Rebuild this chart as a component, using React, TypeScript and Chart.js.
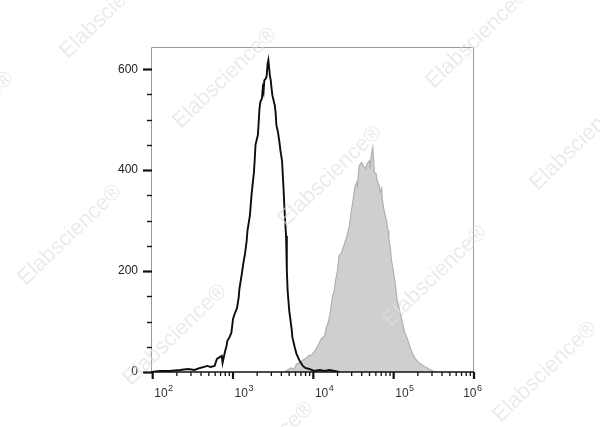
import React, { useEffect, useRef } from 'react';
import { Chart, registerables } from 'chart.js';

Chart.register(...registerables);

// Fluorescence channel, as log10 exponent, and event counts (black open histogram)
const blackExp = [
  1.99, 2.09, 2.21, 2.34, 2.44, 2.52, 2.59, 2.64, 2.68, 2.72, 2.77, 2.80, 2.84, 2.86, 2.87,
  2.90, 2.92, 2.93, 2.96, 2.98, 3.00, 3.02, 3.05, 3.07, 3.08, 3.11, 3.13, 3.15, 3.17, 3.18,
  3.21, 3.23, 3.26, 3.27, 3.28, 3.31, 3.33, 3.34, 3.36, 3.37, 3.38, 3.39, 3.41, 3.42, 3.43,
  3.44, 3.46, 3.47, 3.48, 3.49, 3.52, 3.53, 3.54, 3.56, 3.58, 3.59, 3.61, 3.63, 3.64, 3.66,
  3.67, 3.68, 3.70, 3.73, 3.74, 3.77, 3.79, 3.83, 3.87, 3.90, 3.95, 4.01, 4.08, 4.14, 4.20,
  4.26, 4.32,
];
const blackCount = [
  0, 2, 2, 4, 6, 4, 8, 10, 12, 10, 12, 26, 30, 32, 18,
  40, 52, 62, 70, 78, 105, 115, 127, 147, 165, 195, 217, 235, 260, 280,
  310, 350, 395, 420, 450, 470, 523, 535, 542, 562, 555, 578, 582, 588, 610,
  618, 586, 578, 562, 548, 528, 515, 489, 475, 453, 439, 419, 360, 324, 270,
  201, 161, 121, 85, 68, 48, 36, 22, 12, 8, 6, 2, 4, 2, 4,
  2, 0,
];

// Filled grey histogram (stained sample)
const grayExp = [
  3.64, 3.68, 3.72, 3.76, 3.79, 3.83, 3.87, 3.90, 3.94, 3.98, 4.01, 4.05, 4.08, 4.10, 4.14,
  4.16, 4.19, 4.21, 4.24, 4.26, 4.27, 4.30, 4.32, 4.35, 4.37, 4.40, 4.42, 4.45, 4.47, 4.50,
  4.51, 4.52, 4.54, 4.55, 4.56, 4.57, 4.60, 4.62, 4.65, 4.67, 4.70, 4.71, 4.72, 4.74, 4.75,
  4.76, 4.78, 4.80, 4.82, 4.83, 4.85, 4.86, 4.88, 4.91, 4.93, 4.94, 4.96, 4.97, 4.99, 5.02,
  5.04, 5.07, 5.11, 5.14, 5.17, 5.21, 5.23, 5.27, 5.32, 5.37, 5.40, 5.44, 5.49, 5.54,
];
const grayCount = [
  0, 4, 8, 6, 16, 18, 24, 26, 32, 34, 40, 50, 60, 66, 72,
  87, 101, 117, 151, 161, 175, 201, 230, 236, 246, 260, 270, 290, 316, 346,
  360, 368, 376, 368, 389, 409, 415, 409, 403, 413, 419, 403, 429, 445, 423,
  395, 393, 376, 370, 356, 364, 340, 320, 300, 280, 264, 244, 224, 205, 175,
  145, 125, 97, 77, 66, 46, 38, 26, 18, 12, 10, 6, 2, 0,
];

const xDecadeExps = [2, 3, 4, 5, 6];
const xMinorMultipliers = [2, 3, 4, 5, 6, 7, 8, 9];
const yLabelValues = [0, 200, 400, 600];
const yMinorStep = 50;
const watermarkText = 'Elabscience\u00AE';

const X_MIN = Math.pow(10, 1.979);
const X_MAX = 1e6;
const Y_MAX = 644;

const watermarkSpots: [number, number][] = [
  [112, 8], [225, 78], [330, 176], [435, 276], [478, 38], [582, 140],
  [-38, 122], [70, 235], [175, 335], [545, 372], [262, 452],
];

const decorPlugin = {
  id: 'decor',
  afterDraw(chart: any) {
    const { ctx, chartArea: a, scales } = chart;
    const xs = scales.x;
    const ys = scales.y;
    ctx.save();
    // frame
    ctx.strokeStyle = '#9a9a9a';
    ctx.lineWidth = 1;
    ctx.beginPath();
    ctx.moveTo(a.left + 0.5, a.bottom);
    ctx.lineTo(a.left + 0.5, a.top + 0.5);
    ctx.lineTo(a.right - 0.5, a.top + 0.5);
    ctx.lineTo(a.right - 0.5, a.bottom);
    ctx.stroke();
    ctx.strokeStyle = '#111';
    ctx.lineWidth = 1.6;
    ctx.beginPath();
    ctx.moveTo(a.left, a.bottom);
    ctx.lineTo(a.right, a.bottom);
    ctx.stroke();

    // y ticks
    ctx.strokeStyle = '#111';
    for (let v = 0; v <= Y_MAX; v += yMinorStep) {
      const y = Math.round(ys.getPixelForValue(v)) + 0.5;
      const major = yLabelValues.includes(v);
      ctx.lineWidth = major ? 2.2 : 1.4;
      const len = major ? 8 : 4;
      ctx.beginPath();
      ctx.moveTo(a.left - len, y);
      ctx.lineTo(a.left + 1, y);
      ctx.stroke();
    }

    // x ticks
    xDecadeExps.forEach((e) => {
      const base = Math.pow(10, e);
      const x = xs.getPixelForValue(base);
      ctx.lineWidth = 2.2;
      ctx.beginPath();
      ctx.moveTo(x, a.bottom);
      ctx.lineTo(x, a.bottom + 7);
      ctx.stroke();
      if (e < 6) {
        xMinorMultipliers.forEach((m) => {
          const xm = xs.getPixelForValue(base * m);
          ctx.lineWidth = 1.3;
          ctx.beginPath();
          ctx.moveTo(xm, a.bottom);
          ctx.lineTo(xm, a.bottom + 4);
          ctx.stroke();
        });
      }
    });

    // x labels 10^n
    ctx.fillStyle = '#333';
    ctx.textBaseline = 'alphabetic';
    ctx.textAlign = 'left';
    const baseFont = '12px "Liberation Sans", Arial, sans-serif';
    const expFont = '9px "Liberation Sans", Arial, sans-serif';
    xDecadeExps.forEach((e) => {
      const x = xs.getPixelForValue(Math.pow(10, e));
      ctx.font = baseFont;
      const wBase = ctx.measureText('10').width;
      ctx.font = expFont;
      const wExp = ctx.measureText(String(e)).width;
      const w = wBase + wExp + 0.5;
      let cx = x + 11;
      if (cx + w / 2 > a.right + 8) cx = a.right + 8 - w / 2;
      const left = cx - w / 2;
      ctx.font = baseFont;
      ctx.fillText('10', left, a.bottom + 25);
      ctx.font = expFont;
      ctx.fillText(String(e), left + wBase + 0.5, a.bottom + 19);
    });

    // watermarks
    ctx.fillStyle = 'rgba(222,222,222,0.6)';
    ctx.font = '22px "Liberation Sans", Arial, sans-serif';
    ctx.textAlign = 'center';
    ctx.textBaseline = 'middle';
    watermarkSpots.forEach(([wx, wy]) => {
      ctx.save();
      ctx.translate(wx, wy);
      ctx.rotate(-44 * Math.PI / 180);
      ctx.fillText(watermarkText, 0, 0);
      ctx.restore();
    });
    ctx.restore();
  },
};

export default function App() {
  const ref = useRef<HTMLCanvasElement | null>(null);
  useEffect(() => {
    if (!ref.current) return;
    const blackData = blackExp.map((e, i) => ({ x: Math.pow(10, e), y: blackCount[i] }));
    const grayData = grayExp.map((e, i) => ({ x: Math.pow(10, e), y: grayCount[i] }));
    const chart = new Chart(ref.current, {
      type: 'line',
      data: {
        datasets: [
          {
            label: 'Control',
            data: blackData,
            borderColor: '#0d0d0d',
            borderWidth: 1.9,
            pointRadius: 0,
            fill: false,
            tension: 0,
          },
          {
            label: 'Stained',
            data: grayData,
            borderColor: '#b0b0b0',
            backgroundColor: '#cfcfcf',
            borderWidth: 1.2,
            pointRadius: 0,
            fill: 'origin',
            tension: 0,
          },
        ],
      },
      options: {
        animation: false,
        responsive: true,
        maintainAspectRatio: false,
        layout: { padding: { left: 0, right: 126, top: 47, bottom: 0 } },
        plugins: { legend: { display: false }, tooltip: { enabled: false } },
        scales: {
          x: {
            type: 'logarithmic',
            min: X_MIN,
            max: X_MAX,
            grid: { display: false, drawTicks: false },
            border: { display: false },
            ticks: { display: false },
            afterFit: (s: any) => { s.height = 55; },
          },
          y: {
            type: 'linear',
            min: 0,
            max: Y_MAX,
            grid: { display: false, drawTicks: false },
            border: { display: false },
            ticks: {
              stepSize: yMinorStep,
              autoSkip: false,
              padding: 13,
              color: '#222',
              font: { family: '"Liberation Sans", Arial, sans-serif', size: 12 },
              callback: (v: any) => (yLabelValues.includes(Number(v)) ? String(v) : ''),
            },
            afterFit: (s: any) => { s.width = 151; },
          },
        },
      },
      plugins: [decorPlugin],
    });
    return () => chart.destroy();
  }, []);
  return (
    <div style={{ position: 'absolute', left: 0, top: 0, width: 600, height: 427, background: '#fff' }}>
      <canvas ref={ref} />
    </div>
  );
}
